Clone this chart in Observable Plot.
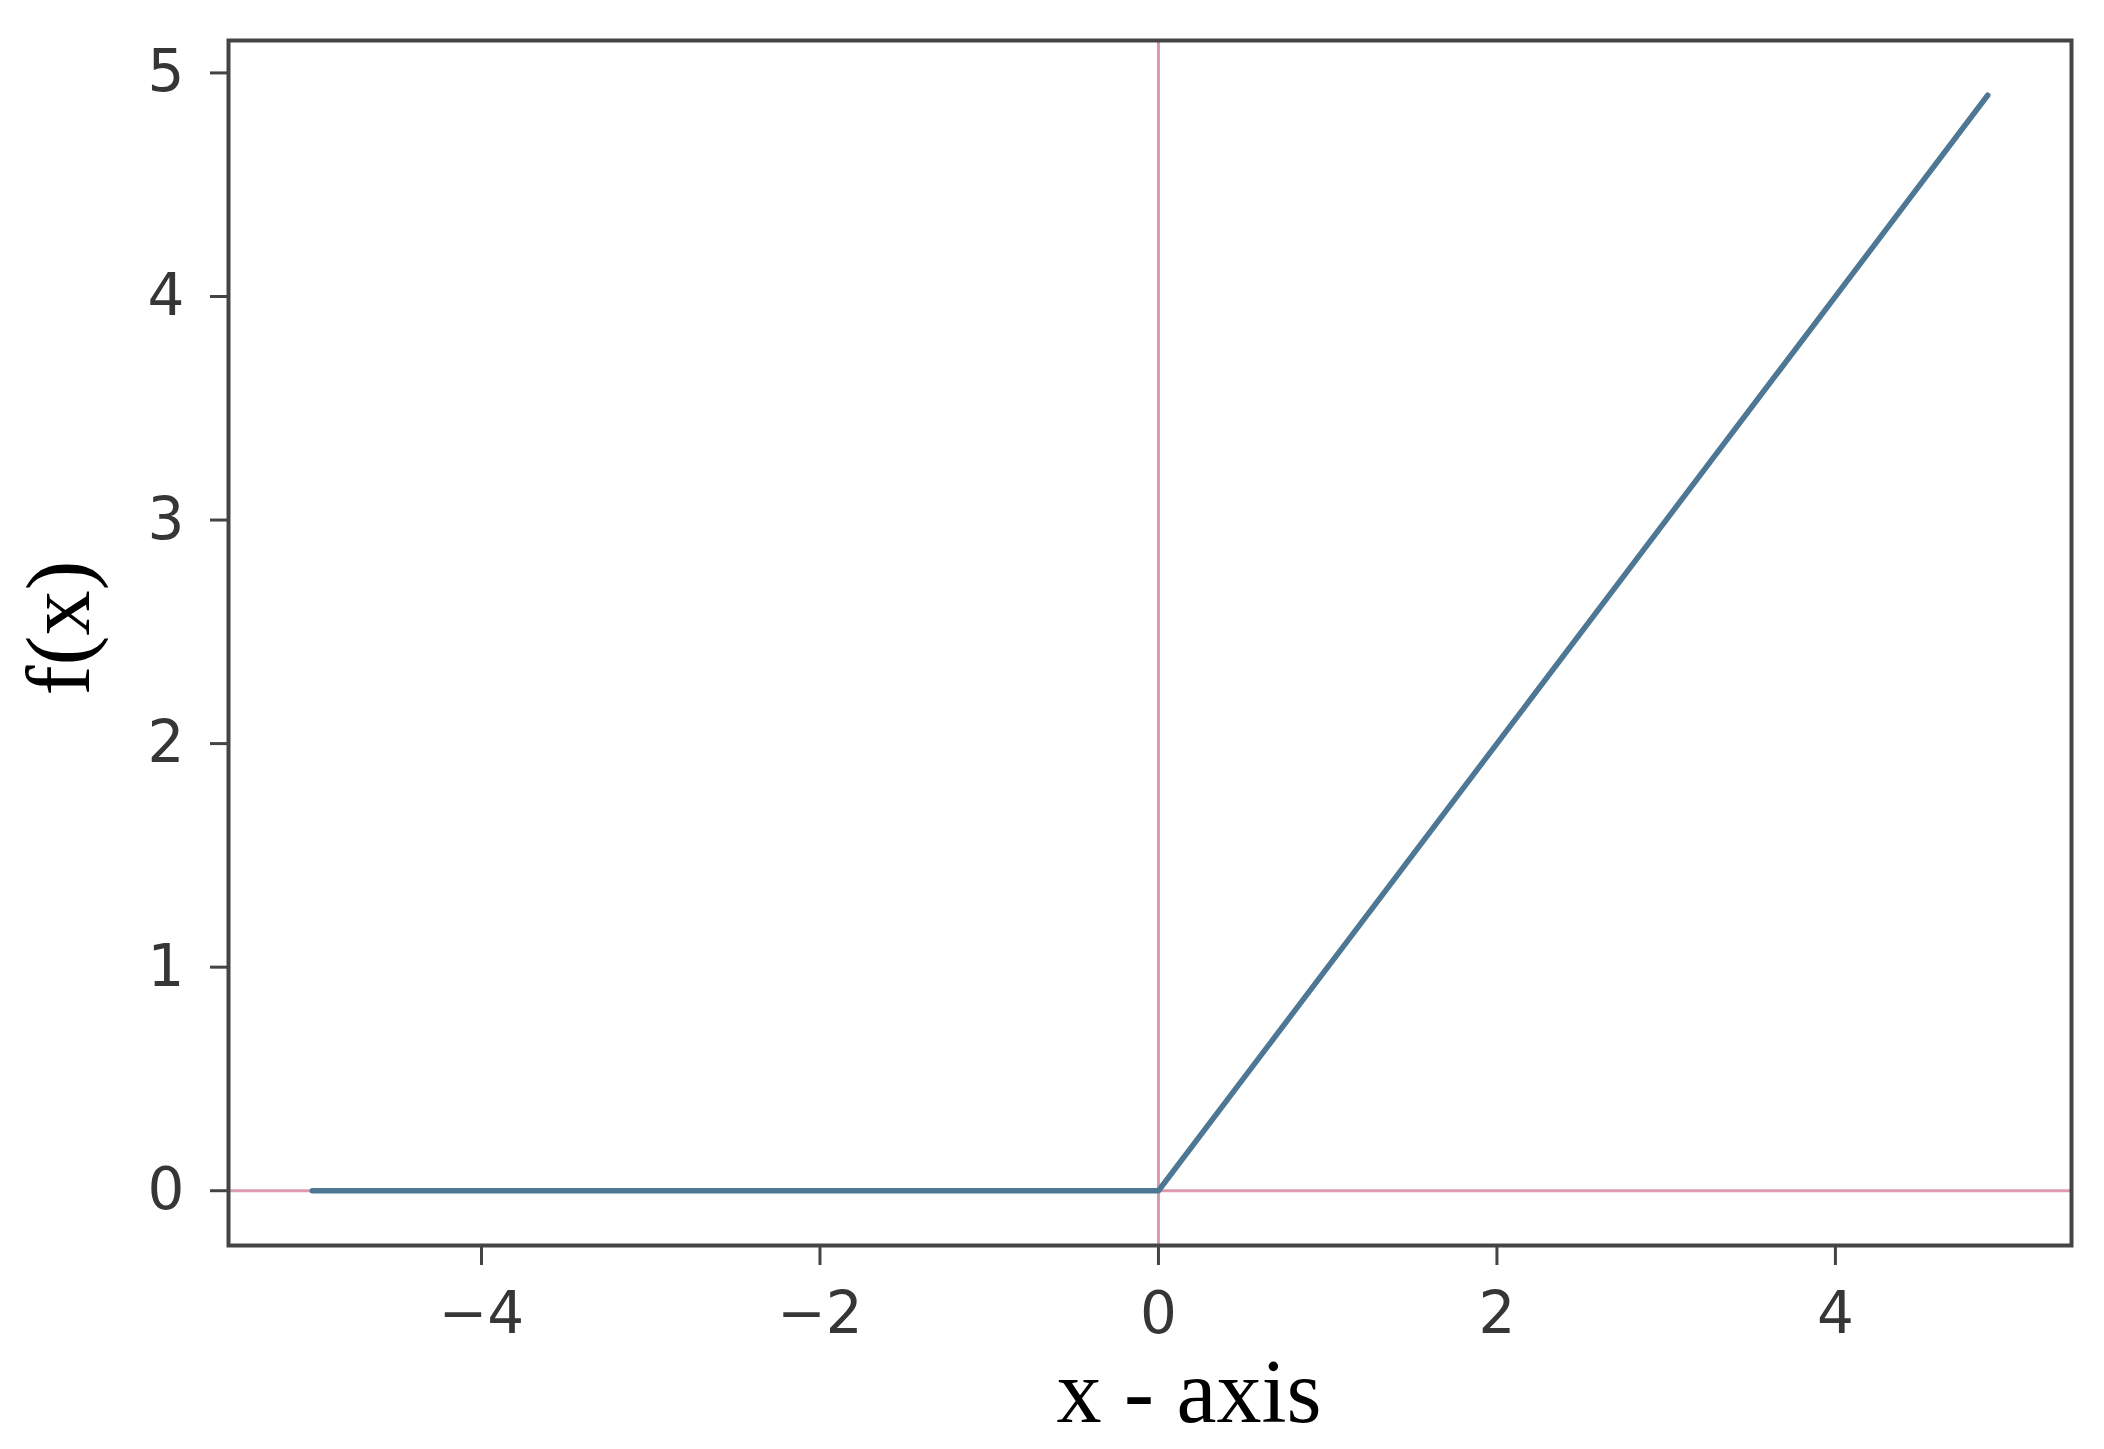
<!DOCTYPE html>
<html>
<head>
<meta charset="utf-8">
<script src="https://cdn.jsdelivr.net/npm/d3@7"></script>
<script src="https://cdn.jsdelivr.net/npm/@observablehq/plot@0.6"></script>
<style>
  html, body { margin: 0; padding: 0; background: #fff; }
  #chart svg { display: block; }
</style>
</head>
<body>
<div id="chart"></div>
<script>
// Data
const xValues = [-5, 0, 4.9];
const yValues = [0, 0, 4.9];
const xTicks = [-4, -2, 0, 2, 4];
const yTicks = [0, 1, 2, 3, 4, 5];
const refX = [0];
const refY = [0];
const xLabel = ["x - axis"];
const yLabel = ["f(x)"];

const points = xValues.map((x, i) => ({x, y: yValues[i]}));
const fmt = d => (d < 0 ? "\u2212" + Math.abs(d) : String(d));

const W = 2104, H = 1449;
const mL = 228, mR = 33, mT = 40, mB = 204;

const chart = Plot.plot({
  width: W,
  height: H,
  marginLeft: mL,
  marginRight: mR,
  marginTop: mT,
  marginBottom: mB,
  style: {background: "#fff", fontFamily: "'DejaVu Sans', sans-serif", color: "#3a3a3a"},
  x: {domain: [-5.495, 5.395]},
  y: {domain: [-0.245, 5.145]},
  marks: [
    Plot.ruleY(refY, {stroke: "#dc9aae", strokeWidth: 3}),
    Plot.ruleX(refX, {stroke: "#dc9aae", strokeWidth: 3}),
    Plot.line(points, {x: "x", y: "y", stroke: "#4d7795", strokeWidth: 5.5}),
    Plot.axisX(xTicks, {tickSize: 20, tickPadding: 26, tickFormat: fmt, fontSize: 58, stroke: "#444", strokeWidth: 3, fill: "#363636", label: null}),
    Plot.axisY(yTicks, {tickSize: 18, tickPadding: 26, tickFormat: fmt, fontSize: 58, stroke: "#444", strokeWidth: 3, fill: "#363636", label: null}),
    Plot.frame({stroke: "#444", strokeWidth: 4}),
    Plot.text(xLabel, {frameAnchor: "bottom", dx: 39, dy: 148, lineAnchor: "middle", fontSize: 90, fontFamily: "'Liberation Serif', serif", fill: "#000"}),
    Plot.text(yLabel, {frameAnchor: "left", dx: -168, dy: -15, rotate: -90, lineAnchor: "middle", textAnchor: "middle", fontSize: 90, fontFamily: "'Liberation Serif', serif", fill: "#000"})
  ]
});
document.getElementById("chart").appendChild(chart);
</script>
</body>
</html>
